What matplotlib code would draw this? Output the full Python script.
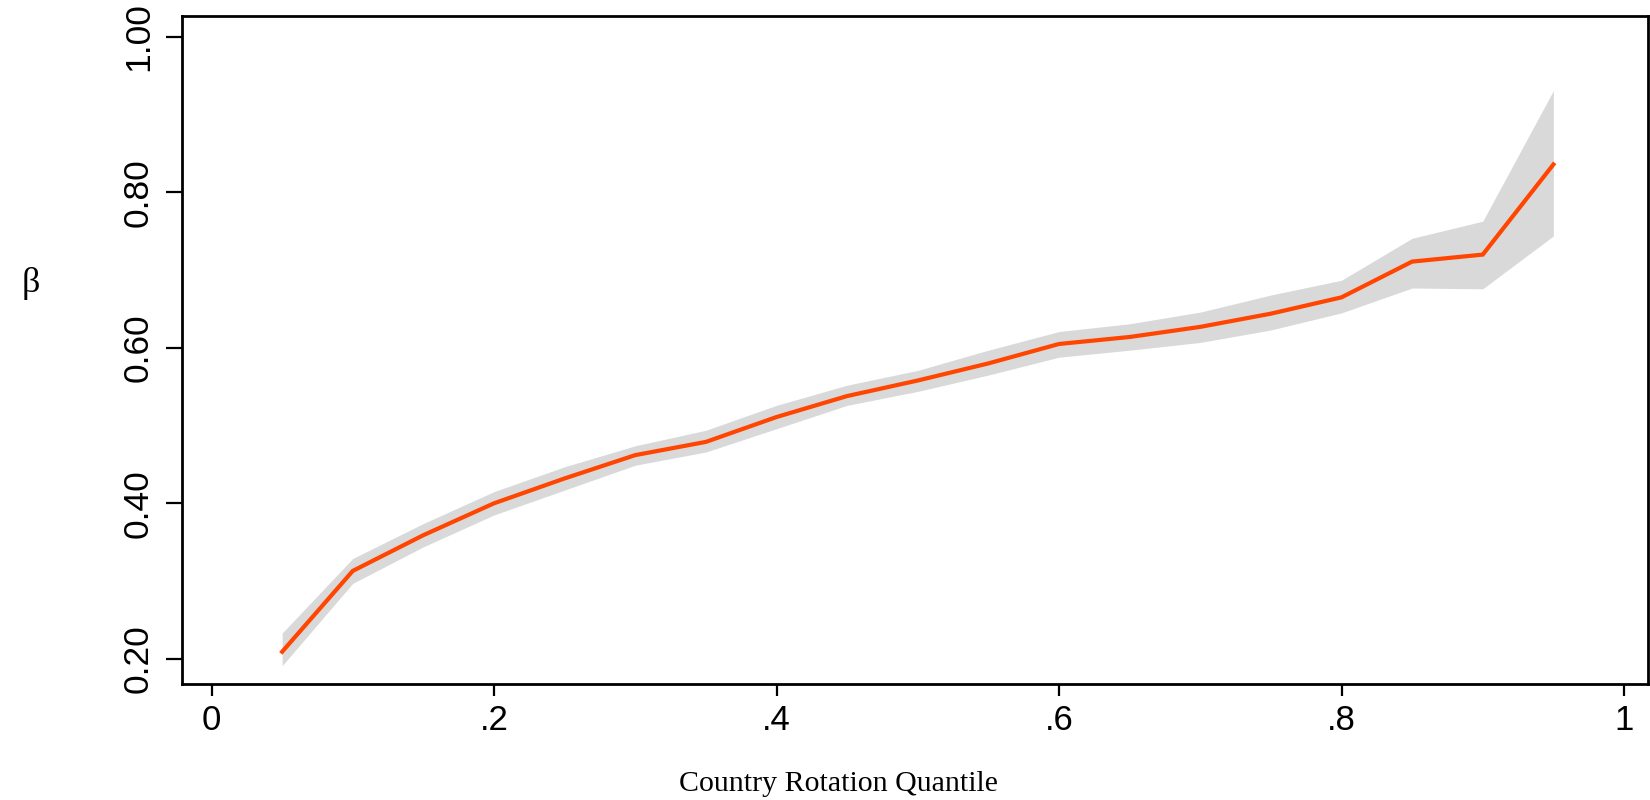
import matplotlib
matplotlib.use("Agg")
import matplotlib.pyplot as plt

quantiles = [0.05, 0.10, 0.15, 0.20, 0.25, 0.30, 0.35, 0.40, 0.45, 0.50,
             0.55, 0.60, 0.65, 0.70, 0.75, 0.80, 0.85, 0.90, 0.95]
beta = [0.209, 0.313, 0.359, 0.400, 0.432, 0.462, 0.479, 0.511, 0.538, 0.558,
        0.580, 0.605, 0.614, 0.627, 0.644, 0.665, 0.711, 0.720, 0.836]
ci_upper = [0.233, 0.329, 0.374, 0.415, 0.447, 0.474, 0.494, 0.526, 0.552, 0.571,
            0.597, 0.621, 0.631, 0.646, 0.668, 0.687, 0.741, 0.763, 0.931]
ci_lower = [0.191, 0.297, 0.344, 0.385, 0.417, 0.449, 0.466, 0.496, 0.526, 0.544,
            0.565, 0.588, 0.597, 0.607, 0.623, 0.645, 0.677, 0.676, 0.744]

xticks = [0, 0.2, 0.4, 0.6, 0.8, 1.0]
xticklabels = ["0", ".2", ".4", ".6", ".8", "1"]
yticks = [0.2, 0.4, 0.6, 0.8, 1.0]
yticklabels = ["0.20", "0.40", "0.60", "0.80", "1.00"]

fig = plt.figure(figsize=(16.5, 8), dpi=100)
ax = fig.add_axes([0.1103, 0.145, 0.8885, 0.835])

ax.fill_between(quantiles, ci_lower, ci_upper, color="#d9d9d9", linewidth=0, zorder=1)
ax.plot(quantiles, beta, color="#ff4500", linewidth=3.0, zorder=2,
        solid_joinstyle="miter")

ax.set_xlim(-0.0209, 1.017)
ax.set_ylim(0.1675, 1.027)

ax.set_xticks(xticks)
ax.set_xticklabels(xticklabels, fontfamily="Liberation Sans", fontsize=25)
ax.set_yticks(yticks)
ax.set_yticklabels(yticklabels, fontfamily="Liberation Sans", fontsize=25.5,
                   rotation=90, va="center")

ax.tick_params(axis="x", direction="out", length=8.6, width=1.6, color="black", pad=6)
ax.tick_params(axis="y", direction="out", length=11.5, width=1.6, color="black", pad=8)
for sp in ax.spines.values():
    sp.set_linewidth(2.0)
    sp.set_color("black")

fig.text(838 / 1650, 1 - 784 / 800, "Country Rotation Quantile",
         fontfamily="Liberation Serif", fontsize=21.5, ha="center", va="center")
fig.text(31 / 1650, 1 - 283 / 800, "β",
         fontfamily="Liberation Serif", fontsize=26, ha="center", va="center")

fig.savefig("out.png", dpi=100, facecolor="white")
